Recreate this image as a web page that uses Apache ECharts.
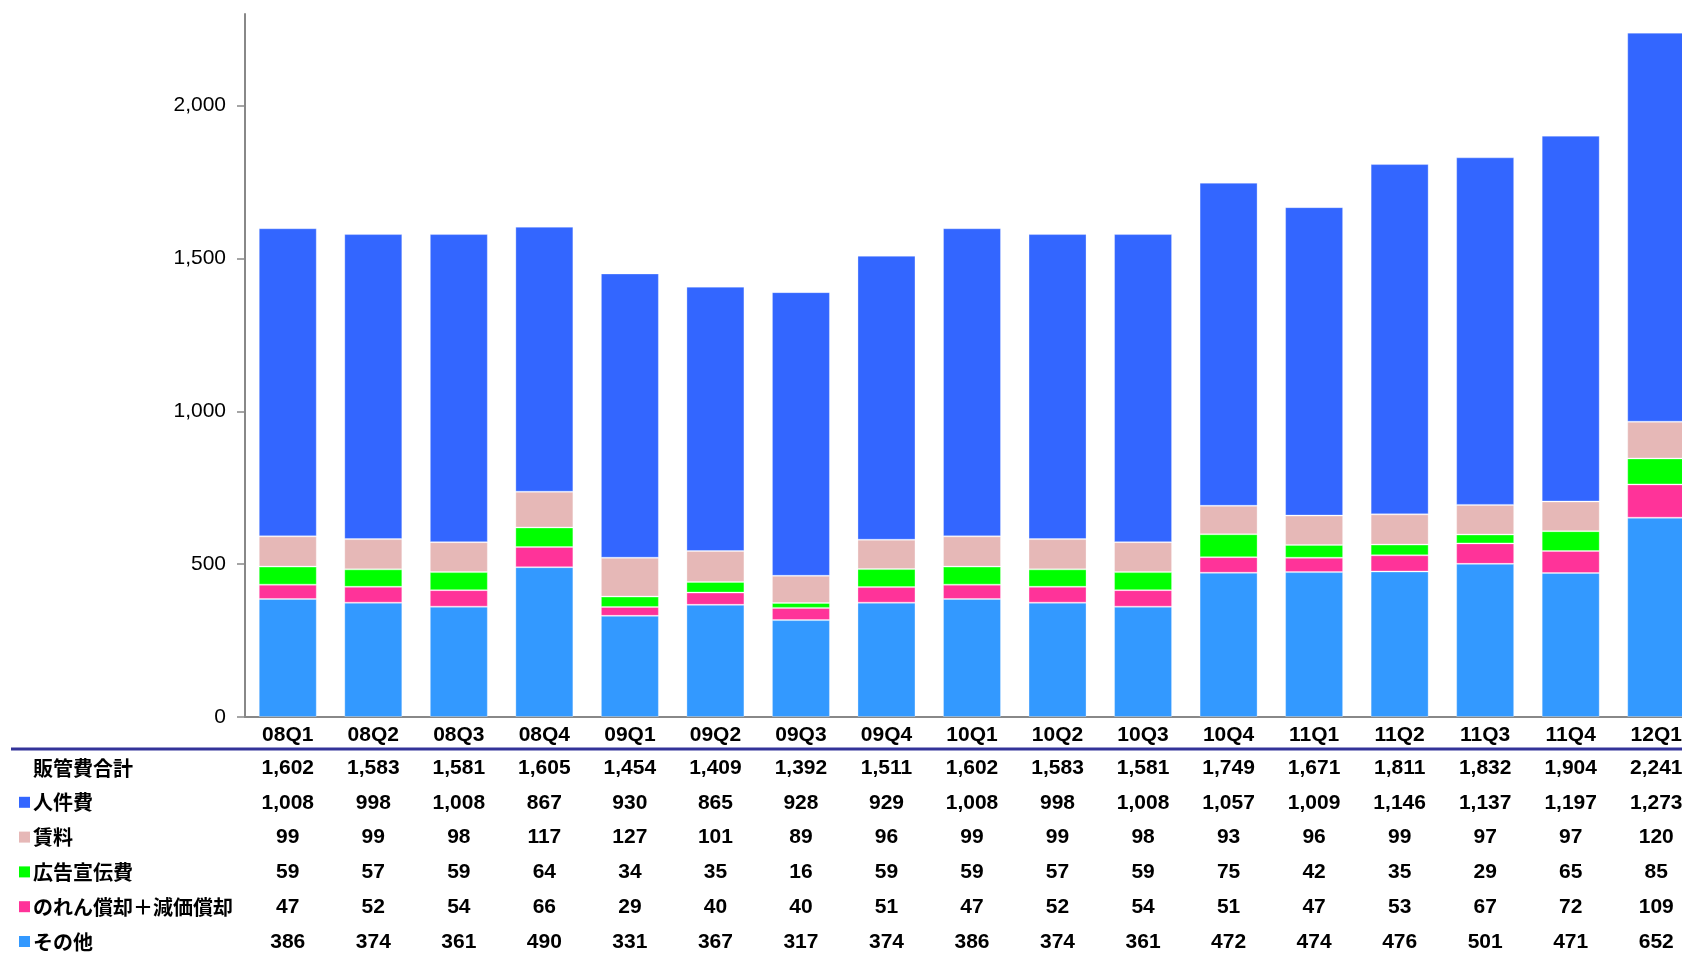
<!DOCTYPE html>
<html><head><meta charset="utf-8">
<script src="https://cdn.jsdelivr.net/npm/echarts@6/dist/echarts.min.js"></script>
<style>html,body{margin:0;padding:0;background:#fff;overflow:hidden}#c{width:1699px;height:953px}</style>
</head><body><div id="c"></div>
<script>
const categories = ['08Q1','08Q2','08Q3','08Q4','09Q1','09Q2','09Q3','09Q4','10Q1','10Q2','10Q3','10Q4','11Q1','11Q2','11Q3','11Q4','12Q1'];
const total    = [1602,1583,1581,1605,1454,1409,1392,1511,1602,1583,1581,1749,1671,1811,1832,1904,2241];
const jinkenhi = [1008,998,1008,867,930,865,928,929,1008,998,1008,1057,1009,1146,1137,1197,1273];
const chinryo  = [99,99,98,117,127,101,89,96,99,99,98,93,96,99,97,97,120];
const kokoku   = [59,57,59,64,34,35,16,59,59,57,59,75,42,35,29,65,85];
const noren    = [47,52,54,66,29,40,40,51,47,52,54,51,47,53,67,72,109];
const sonota   = [386,374,361,490,331,367,317,374,386,374,361,472,474,476,501,471,652];
const yTicks   = [0,500,1000,1500,2000];

const C_JIN='#3366FF', C_CHIN='#E6B8B7', C_KOK='#00FF00', C_NOR='#FF3399', C_SON='#3399FF';

const stackSeries = [
  {name:'その他', data:sonota, color:C_SON},
  {name:'のれん償却＋減価償却', data:noren, color:C_NOR},
  {name:'広告宣伝費', data:kokoku, color:C_KOK},
  {name:'賃料', data:chinryo, color:C_CHIN},
  {name:'人件費', data:jinkenhi, color:C_JIN}
];
const tableRows = [
  {label:'販管費合計', values:total, color:null},
  {label:'人件費', values:jinkenhi, color:C_JIN},
  {label:'賃料', values:chinryo, color:C_CHIN},
  {label:'広告宣伝費', values:kokoku, color:C_KOK},
  {label:'のれん償却＋減価償却', values:noren, color:C_NOR},
  {label:'その他', values:sonota, color:C_SON}
];

const fmt = v => Number(v).toLocaleString('en-US');
const FONT = '"Liberation Sans", Arial, "Noto Sans CJK JP", sans-serif';
const JFONT = '"Noto Sans CJK JP", "Liberation Sans", sans-serif';

const GRID_LEFT = 245, GRID_TOP = 14, AXIS_Y = 717;
const ROW0 = 41, ROW_STEP = 34.8;

const xAxes = [{
  type:'category', data:categories, gridIndex:0, position:'bottom',
  axisLine:{show:true, lineStyle:{color:'#888', width:2}},
  axisTick:{show:false},
  axisLabel:{interval:0, margin:8, fontSize:21, fontWeight:'bold', color:'#000', fontFamily:FONT, lineHeight:21}
}];
tableRows.forEach((r, k) => {
  xAxes.push({
    type:'category', data:categories, gridIndex:0, position:'bottom', offset: ROW0 + k*ROW_STEP,
    axisLine:{show:false}, axisTick:{show:false}, splitLine:{show:false},
    axisLabel:{interval:0, margin:-0.5, fontSize:21, fontWeight:'bold', color:'#000', fontFamily:FONT, lineHeight:21,
      formatter:(v, i) => fmt(r.values[i])}
  });
});

const graphic = [{
  type:'line', shape:{x1:11, y1:749, x2:1699, y2:749}, style:{stroke:'#333399', lineWidth:3}, silent:true
}];
tableRows.forEach((r, k) => {
  const cy = AXIS_Y + ROW0 + k*ROW_STEP + 10;
  if (r.color) graphic.push({type:'rect', shape:{x:19, y:cy-6, width:11, height:11}, style:{fill:r.color}, silent:true});
  graphic.push({type:'text', x:33, y:cy, style:{text:r.label, fill:'#000', font:'bold 20px ' + JFONT, verticalAlign:'middle', align:'left'}, silent:true});
});

const chart = echarts.init(document.getElementById('c'));
chart.setOption({
  animation:false,
  backgroundColor:'#fff',
  grid:{left:GRID_LEFT, top:GRID_TOP, right:0, bottom:953-AXIS_Y, containLabel:false},
  xAxis: xAxes,
  yAxis:{
    type:'value', min:0, max:2300, interval:500,
    axisLine:{show:true, lineStyle:{color:'#888', width:2}},
    axisTick:{show:true, length:8, lineStyle:{color:'#888', width:1.5}, customValues:yTicks},
    splitLine:{show:false},
    axisLabel:{margin:19, fontSize:21, color:'#000', fontFamily:FONT, customValues:yTicks, formatter:v => fmt(v)}
  },
  graphic: graphic,
  series: stackSeries.map(s => ({
    name:s.name, type:'bar', stack:'sga', barWidth:58, data:s.data,
    itemStyle:{color:s.color, borderColor:'rgba(255,255,255,0.3)', borderWidth:1}
  }))
});
</script>
</body></html>
